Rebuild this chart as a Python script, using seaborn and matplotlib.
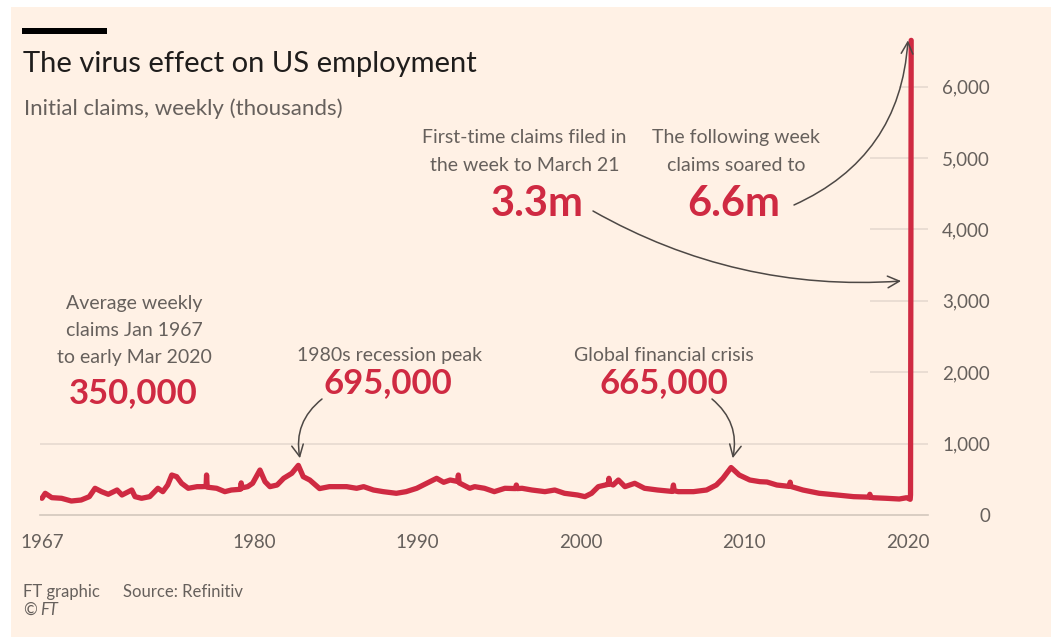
import matplotlib
matplotlib.use("Agg")
import matplotlib.pyplot as plt
from matplotlib.patches import Rectangle
import pandas as pd
import seaborn as sns

# ---- data (weekly initial claims, thousands) ----
years = [1967.0, 1967.2, 1967.6, 1968.2, 1968.8, 1969.4, 1969.9, 1970.25, 1970.65, 1971.06,
         1971.6, 1971.9, 1972.5, 1972.7, 1973.1, 1973.6, 1974.1, 1974.4, 1974.7, 1974.95,
         1975.25, 1975.55, 1975.96, 1976.5, 1976.8, 1977.05, 1977.08, 1977.12, 1977.7, 1978.2,
         1978.6, 1979.15, 1979.2, 1979.25, 1979.6, 1979.9, 1980.35, 1980.66, 1980.96, 1981.4,
         1981.8, 1982.3, 1982.7, 1983.0, 1983.4, 1984.0, 1984.6, 1985.05, 1985.66, 1986.27,
         1986.7, 1987.3, 1987.9, 1988.7, 1989.3, 1989.95, 1990.56, 1991.17, 1991.6, 1992.0,
         1992.45, 1992.5, 1992.55, 1993.2, 1993.5, 1994.1, 1994.7, 1995.35, 1996.0, 1996.05,
         1996.1, 1996.4, 1997.0, 1997.8, 1998.4, 1999.0, 1999.8, 2000.25, 2000.66, 2001.07,
         2001.5, 2001.68, 2001.72, 2001.76, 2001.98, 2002.3, 2002.7, 2003.3, 2003.9, 2004.7,
         2005.6, 2005.67, 2005.72, 2005.97, 2006.9, 2007.7, 2008.3, 2008.7, 2009.2, 2009.7,
         2010.35, 2010.96, 2011.4, 2012.0, 2012.78, 2012.82, 2012.86, 2013.6, 2014.6, 2015.7,
         2016.7, 2017.66, 2017.7, 2017.74, 2017.9, 2018.7, 2019.5, 2019.95, 2020.17, 2020.19,
         2020.21, 2020.23]
claims = [234, 304, 243, 234, 196, 210, 257, 374, 327, 290,
          350, 280, 350, 257, 234, 257, 374, 327, 420, 560,
          537, 444, 374, 397, 397, 400, 560, 390, 374, 327,
          350, 360, 450, 380, 397, 444, 630, 467, 397, 420,
          514, 584, 695, 537, 490, 370, 397, 397, 397, 374,
          397, 350, 327, 304, 327, 374, 444, 514, 458, 490,
          470, 560, 450, 374, 397, 374, 327, 374, 370, 420,
          370, 374, 350, 327, 350, 304, 280, 257, 304, 397,
          420, 430, 514, 440, 420, 490, 397, 444, 374, 350,
          330, 420, 340, 327, 327, 350, 420, 514, 665, 560,
          490, 467, 462, 420, 400, 460, 400, 350, 304, 280,
          257, 250, 290, 250, 242, 234, 224, 242, 220, 282,
          3307, 6648]

x_major = [1967, 1970, 1980, 1990, 2000, 2010, 2020]
x_major_labels = ["1967", "", "1980", "1990", "2000", "2010", "2020"]
x_minor = [y for y in range(1968, 2020) if y not in x_major]
y_ticks = [0, 1000, 2000, 3000, 4000, 5000, 6000]
y_labels = ["0", "1,000", "2,000", "3,000", "4,000", "5,000", "6,000"]

df = pd.DataFrame({"year": years, "claims": claims})

# ---- style ----
BG = "#FFF1E5"
RED = "#CF2A42"
GREY = "#66605C"
DARK = "#1f1d1c"
GRID = "#E6DAD0"
SPINE = "#D3C8BD"
ARROW = "#4D4845"

sns.set_theme(style="white")
plt.rcParams["font.family"] = ["Lato", "DejaVu Sans"]

W, H = 1051, 637
fig = plt.figure(figsize=(W / 100, H / 100), dpi=100, facecolor="white")
fig.patches.append(Rectangle((11 / W, 0), 1 - 11 / W, 1 - 7 / H, transform=fig.transFigure,
                             facecolor=BG, edgecolor="none", zorder=-10))
fig.patches.append(Rectangle((22 / W, 1 - 34 / H), 85 / W, 6 / H, transform=fig.transFigure,
                             facecolor="black", edgecolor="none", zorder=5))

ax = fig.add_axes([40 / W, (H - 515) / H, 888 / W, (515 - 29.5) / H])
ax.set_facecolor("none")
xmin, xmax = 1966.88, 2021.26
ax.set_xlim(xmin, xmax)
ax.set_ylim(0, 6800)

# gridlines
ax.axhline(1000, color=GRID, lw=1.2, zorder=0)
ax.hlines([2000, 3000, 4000, 5000], 2017.7, xmax, color=GRID, lw=1.2, zorder=0)
ax.hlines([6000], 2019.5, xmax, color=GRID, lw=1.2, zorder=0)

sns.lineplot(data=df, x="year", y="claims", ax=ax, color=RED, linewidth=3.8,
             estimator=None, sort=False, zorder=3)
ax.lines[-1].set_solid_joinstyle("round")

for s in ["top", "left", "right"]:
    ax.spines[s].set_visible(False)
ax.spines["bottom"].set_color(SPINE)
ax.spines["bottom"].set_linewidth(1.2)

ax.set_xticks(x_major)
ax.set_xticklabels(x_major_labels)
ax.set_xticks(x_minor, minor=True)
ax.tick_params(axis="x", which="major", length=9, width=1.1, color=SPINE,
               labelsize=13.5, labelcolor=GREY, pad=5)
ax.tick_params(axis="x", which="minor", length=3.5, width=1.0, color=SPINE)

ax.yaxis.tick_right()
ax.set_yticks(y_ticks)
ax.set_yticklabels(y_labels)
ax.tick_params(axis="y", length=0, pad=44.6, labelsize=13.5, labelcolor=GREY)
for t in ax.get_yticklabels():
    t.set_horizontalalignment("right")
ax.set_xlabel("")
ax.set_ylabel("")
ax.grid(False)


def ftxt(x, y, s, **kw):
    fig.text(x / W, 1 - y / H, s, **kw)


# title & subtitle
ftxt(23, 72, "The virus effect on US employment", fontsize=21, color=DARK, va="baseline")
ftxt(24, 115, "Initial claims, weekly (thousands)", fontsize=16, color=GREY, va="baseline")

# annotations
ann = dict(fontsize=14, color=GREY, va="baseline", ha="center")
big = dict(fontsize=25, color=RED, va="baseline", ha="center", fontweight="bold")
bigm = dict(fontsize=30, color=RED, va="baseline", ha="center", fontweight="bold")

ftxt(134.5, 309, "Average weekly", **ann)
ftxt(134.5, 336, "claims Jan 1967", **ann)
ftxt(134.5, 363, "to early Mar 2020", **ann)
ftxt(133.5, 403, "350,000", **big)

ftxt(390, 361, "1980s recession peak", **ann)
ftxt(388, 393, "695,000", **big)

ftxt(664, 361, "Global financial crisis", **ann)
ftxt(664, 393, "665,000", **big)

ftxt(524.5, 143, "First-time claims filed in", **ann)
ftxt(524.5, 171, "the week to March 21", **ann)
ftxt(537.5, 216, "3.3m", **bigm)

ftxt(735.5, 143, "The following week", **ann)
ftxt(736, 171, "claims soared to", **ann)
ftxt(734, 216, "6.6m", **bigm)

# arrows
aprops = dict(arrowstyle="->,head_length=0.7,head_width=0.35", color=ARROW, lw=1.1,
              shrinkA=0, shrinkB=0, mutation_scale=12)
i80 = claims.index(695)
igfc = claims.index(665)
i33 = claims.index(3307)
i66 = claims.index(6648)


def fp(x, y):
    return (x, H - y)


ax.annotate("", xy=(years[i80] + 0.1, claims[i80] + 100), xycoords="data",
            xytext=fp(322, 399), textcoords="figure pixels",
            arrowprops=dict(connectionstyle="arc3,rad=0.3", **aprops))
ax.annotate("", xy=(years[igfc] + 0.1, claims[igfc] + 130), xycoords="data",
            xytext=fp(712, 399), textcoords="figure pixels",
            arrowprops=dict(connectionstyle="arc3,rad=-0.3", **aprops))
ax.annotate("", xy=(years[i33] - 0.6, claims[i33] - 30), xycoords="data",
            xytext=fp(593, 211), textcoords="figure pixels",
            arrowprops=dict(connectionstyle="arc3,rad=0.15", **aprops))
ax.annotate("", xy=(years[i66] - 0.2, claims[i66]), xycoords="data",
            xytext=fp(794, 205), textcoords="figure pixels",
            arrowprops=dict(connectionstyle="arc3,rad=0.3", **aprops))

# footer
foot = dict(fontsize=12, color=GREY, va="baseline")
ftxt(23, 597, "FT graphic", **foot)
ftxt(123, 597, "Source: Refinitiv", **foot)
ftxt(23, 615, "\u00a9", **foot)
ftxt(40, 615, "FT", fontstyle="italic", **foot)

fig.savefig("out.png", dpi=100, facecolor=fig.get_facecolor())
